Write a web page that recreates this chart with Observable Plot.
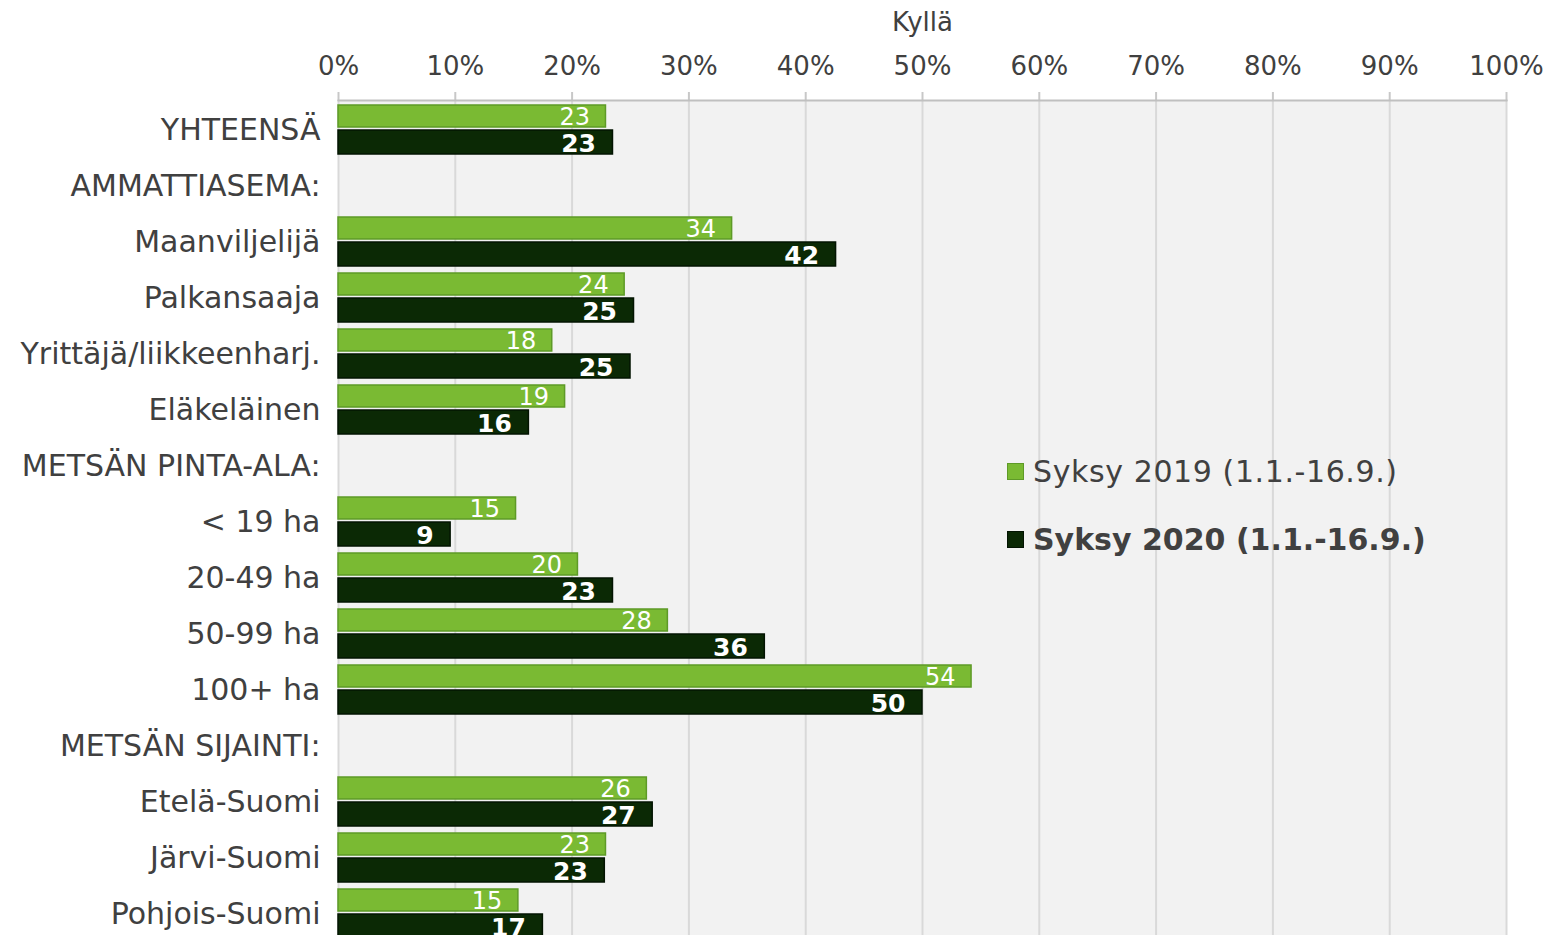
<!DOCTYPE html>
<html>
<head>
<meta charset="utf-8">
<script src="https://cdn.jsdelivr.net/npm/d3@7"></script>
<script src="https://cdn.jsdelivr.net/npm/@observablehq/plot@0.6"></script>
<style>
  html, body { margin: 0; padding: 0; background: #fff; overflow: hidden; }
  #wrap { position: relative; width: 1549px; height: 935px; font-family: "DejaVu Sans", Verdana, sans-serif; }
  #legend { position: absolute; left: 1007px; top: 453px; color: #404040; font-size: 30px; }
  .li { display: flex; align-items: center; height: 36px; margin-bottom: 32px; white-space: nowrap; }
  .sw { width: 17px; height: 17px; margin-right: 9px; box-sizing: border-box; border: 1.5px solid; }
</style>
</head>
<body>
<div id="wrap"><div id="chart"></div><div id="legend"></div></div>
<script>
const categories = [
  "YHTEENSÄ", "AMMATTIASEMA:", "Maanviljelijä", "Palkansaaja", "Yrittäjä/liikkeenharj.",
  "Eläkeläinen", "METSÄN PINTA-ALA:", "< 19 ha", "20-49 ha", "50-99 ha", "100+ ha",
  "METSÄN SIJAINTI:", "Etelä-Suomi", "Järvi-Suomi", "Pohjois-Suomi"
];
const series = ["Syksy 2019 (1.1.-16.9.)", "Syksy 2020 (1.1.-16.9.)"];
const values2019 = [22.9, null, 33.7, 24.5, 18.3, 19.4, null, 15.2, 20.5, 28.2, 54.2, null, 26.4, 22.9, 15.4];
const values2020 = [23.5, null, 42.6, 25.3, 25.0, 16.3, null, 9.6, 23.5, 36.5, 50.0, null, 26.9, 22.8, 17.5];
const labels2019 = ["23", "", "34", "24", "18", "19", "", "15", "20", "28", "54", "", "26", "23", "15"];
const labels2020 = ["23", "", "42", "25", "25", "16", "", "9", "23", "36", "50", "", "27", "23", "17"];
const xTicks = [0, 10, 20, 30, 40, 50, 60, 70, 80, 90, 100];
const colors = ["#7aba33", "#0b2905"];
const strokes = ["#5e9a27", "#031402"];

const d19 = categories.map((c, i) => ({cat: c, v: values2019[i], lab: labels2019[i]})).filter(d => d.v != null);
const d20 = categories.map((c, i) => ({cat: c, v: values2020[i], lab: labels2020[i]})).filter(d => d.v != null);

const chart = Plot.plot({
  width: 1549,
  height: 945,
  marginLeft: 338,
  marginRight: 43,
  marginTop: 100,
  marginBottom: 5,
  style: {fontFamily: "DejaVu Sans, Verdana, sans-serif", color: "#404040", background: "transparent"},
  x: {domain: [0, 100], axis: null},
  y: {domain: categories, padding: 0, axis: null},
  marks: [
    Plot.frame({fill: "#f2f2f2", stroke: null}),
    Plot.gridX(xTicks, {stroke: "#d9d9d9", strokeOpacity: 1, strokeWidth: 2}),
    Plot.axisX(xTicks, {
      anchor: "top", tickFormat: d => d + "%", tickSize: 9, tickPadding: 17,
      fontSize: 26, stroke: "#c8c8c8", strokeWidth: 2, strokeOpacity: 1, fill: "#404040",
      label: "Kyllä", labelAnchor: "center", labelOffset: 88, labelArrow: false
    }),
    Plot.frame({anchor: "top", stroke: "#c0c0c0", strokeWidth: 2}),
    Plot.axisY(categories, {
      anchor: "left", tickSize: 0, tickPadding: 18, fontSize: 30, dy: 2, fill: "#404040", label: null
    }),
    Plot.barX(d19, {x: "v", y: "cat", fill: colors[0], stroke: strokes[0], strokeWidth: 1.5, insetTop: 5, insetBottom: 29}),
    Plot.barX(d20, {x: "v", y: "cat", fill: colors[1], stroke: strokes[1], strokeWidth: 1.5, insetTop: 30, insetBottom: 2}),
    Plot.text(d19, {x: "v", y: "cat", text: "lab", textAnchor: "end", dx: -16, dy: -11, fill: "white", fontSize: 24}),
    Plot.text(d20, {x: "v", y: "cat", text: "lab", textAnchor: "end", dx: -17, dy: 15, fill: "white", fontSize: 25, fontWeight: "bold"})
  ]
});
document.getElementById("chart").appendChild(chart);

const legend = document.getElementById("legend");
series.forEach((s, i) => {
  const row = document.createElement("div");
  row.className = "li";
  const sw = document.createElement("span");
  sw.className = "sw";
  sw.style.background = colors[i];
  sw.style.borderColor = strokes[i];
  const t = document.createElement("span");
  t.textContent = s;
  if (i === 1) t.style.fontWeight = "bold";
  else t.style.letterSpacing = "0.6px";
  row.appendChild(sw);
  row.appendChild(t);
  legend.appendChild(row);
});
</script>
</body>
</html>
